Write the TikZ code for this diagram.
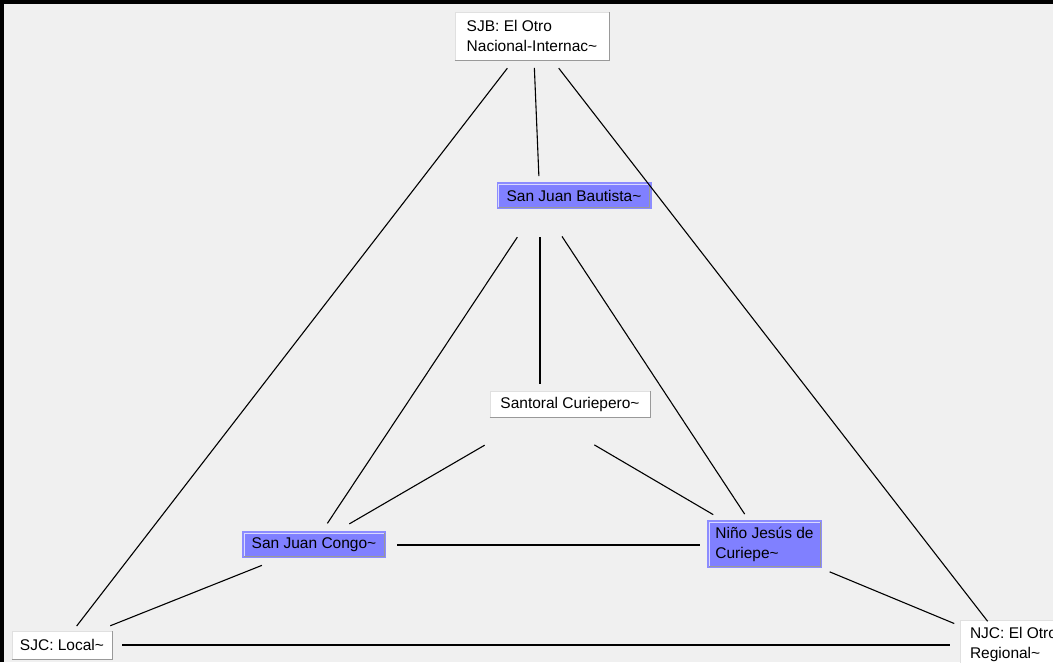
\documentclass[tikz,border=0pt]{standalone}
\usepackage{fontspec}
\setmainfont{Liberation Sans}
\usepackage{tikz}
\usetikzlibrary{calc,positioning}
\definecolor{canvas}{RGB}{240,240,240}
\definecolor{codeblue}{RGB}{128,128,255}
\definecolor{codeedge}{RGB}{140,140,255}
\tikzset{
  memo/.style={draw=black!12, fill=white, line width=1pt, inner xsep=6pt, inner ysep=0pt,
    minimum height=27pt, align=left, font=\fontsize{15.5}{20}\selectfont},
  code/.style={memo, draw=codeedge, fill=codeblue, line width=2pt},
  link/.style={line width=1.1pt, black},
  bevel/.style={line width=1pt, black!40},
}

\begin{document}
\begin{tikzpicture}[x=1pt,y=-1pt]
\useasboundingbox (0,0) rectangle (1053,662);
\clip (0,0) rectangle (1053,662);
\fill[canvas] (0,0) rectangle (1053,662);
\draw[line width=4pt] (2,662) -- (2,2) -- (1053,2);

\coordinate (sjb-pin) at (533,35);
\coordinate (bautista-pin) at (540,203);
\coordinate (santoral-pin) at (540,413);
\coordinate (congo-pin) at (313,545);
\coordinate (nino-pin) at (765,545);
\coordinate (sjc-pin) at (62,645);
\coordinate (njc-pin) at (1006,645);

\node[memo, minimum width=154pt, minimum height=48pt] (sjb) at (532,36) {SJB: El Otro\\Nacional-Internac\textasciitilde};
\node[code, minimum width=153pt, minimum height=25pt] (bautista) at (574,195.5) {San Juan Bautista\textasciitilde};
\node[memo, minimum width=160pt, minimum height=26pt] (santoral) at (570,404) {Santoral Curiepero\textasciitilde};
\node[code, minimum width=142pt, minimum height=25pt] (congo) at (314,544.5) {San Juan Congo\textasciitilde};
\node[code, minimum width=113pt, minimum height=46pt] (nino) at (764.5,544) {Niño Jesús de\\Curiepe\textasciitilde};
\node[memo, minimum width=100pt, minimum height=28pt] (sjc) at (62,645) {SJC: Local\textasciitilde};
\node[memo, minimum width=107pt, minimum height=48pt] (njc) at (1013.5,644) {NJC: El Otro\\Regional\textasciitilde};

\foreach \n in {sjb,santoral,sjc,njc}
  \draw[bevel] (\n.south west) -- (\n.south east) -- (\n.north east);
\foreach \n in {bautista,congo,nino}{
  \draw[bevel] ([xshift=2pt,yshift=2pt]\n.south west) -- ([xshift=-2pt,yshift=2pt]\n.south east) -- ([xshift=-2pt,yshift=-2pt]\n.north east);
  \draw[bevel, white!70!codeblue] ([xshift=2pt,yshift=2pt]\n.south west) -- ([xshift=2pt,yshift=-2pt]\n.north west) -- ([xshift=-2pt,yshift=-2pt]\n.north east);
}

\foreach \a/\b/\s/\e in {sjb/sjc/42/24, sjb/bautista/33/27, sjb/njc/42/30,
    bautista/congo/41/26, bautista/santoral/34/29, bautista/nino/40/37,
    santoral/congo/64/42, santoral/nino/63/60, congo/nino/84/65,
    congo/sjc/55/52, nino/njc/70/56, sjc/njc/60/56}
  \draw[link, shorten <=\s pt, shorten >=\e pt] (\a-pin) -- (\b-pin);
\end{tikzpicture}
\end{document}
